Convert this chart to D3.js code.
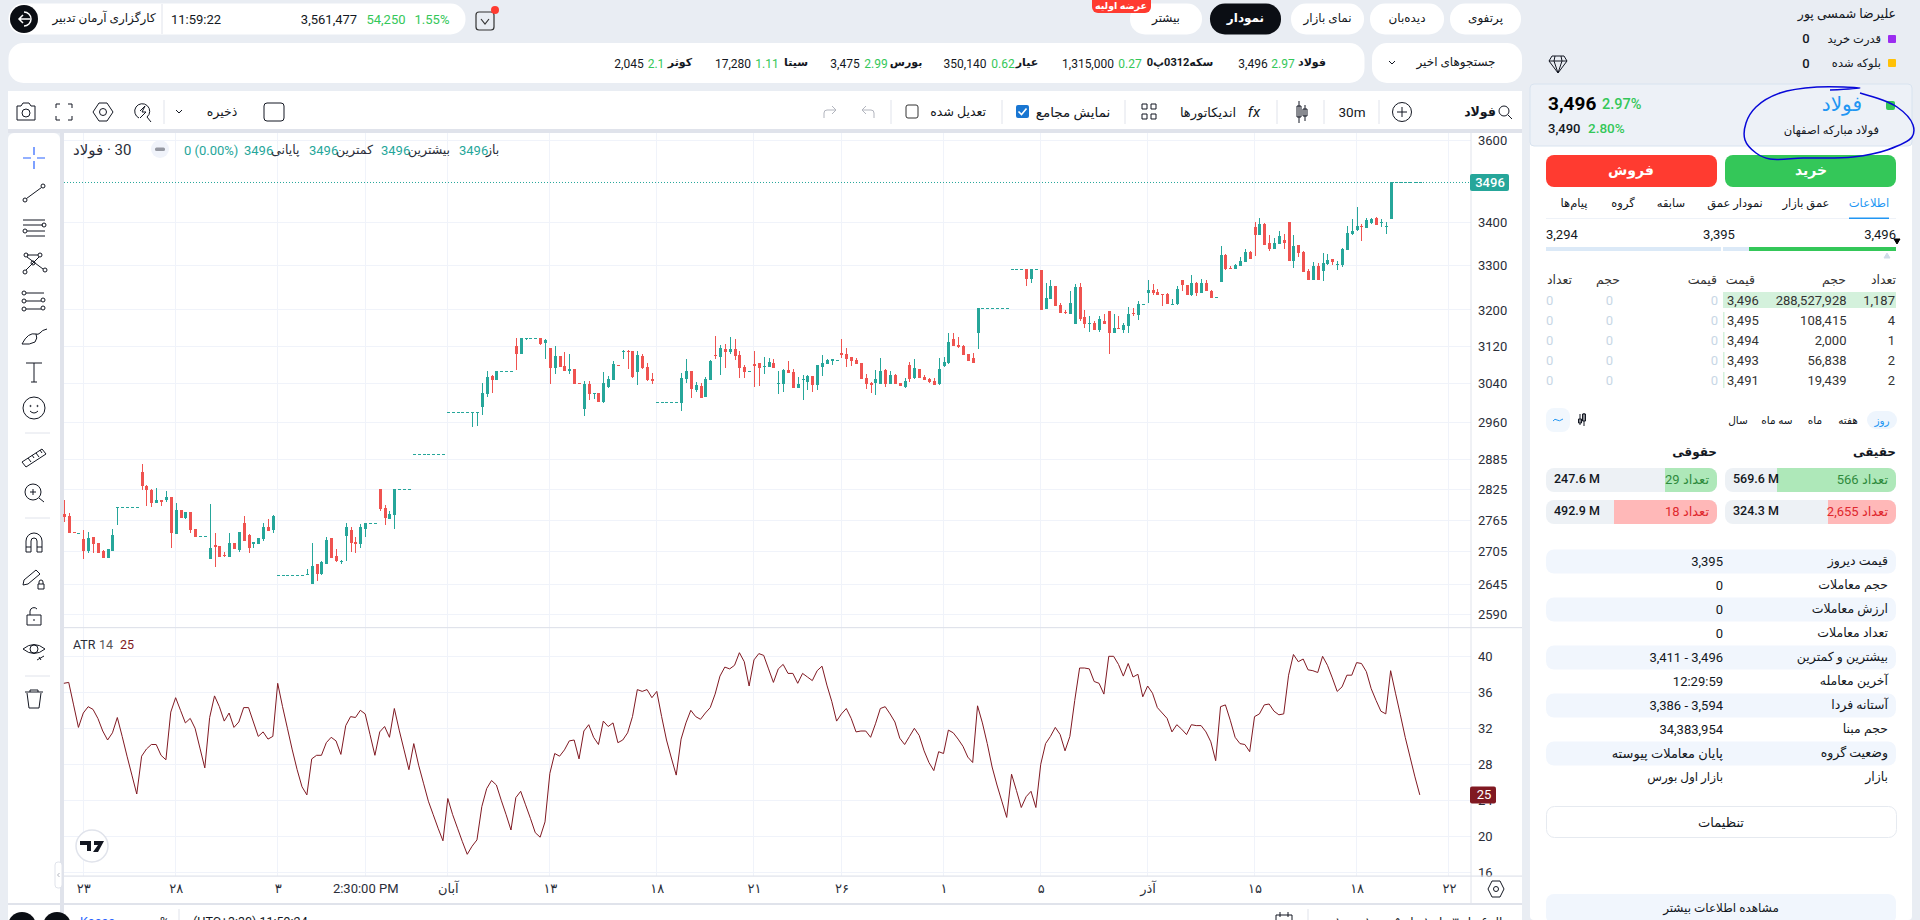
<!DOCTYPE html>
<html>
<head>
<meta charset="utf-8">
<script src="https://cdnjs.cloudflare.com/ajax/libs/d3/7.8.5/d3.min.js"></script>
<style>
    html, body { margin: 0; padding: 0; background: #e9edf3; overflow: hidden; }
    svg { display: block; }
    text { font-family: Roboto, "DejaVu Sans", sans-serif; }
</style>
</head>
<body>
<svg id="chart"></svg>
<script>
var opens = [
    2777,2773,2743,2741,2729,2706,2733,2722,2706,2694,
    2706,2790,2791,2791,2791,2791,2860,2832,2824,2798,
    2805,2804,2809,2738,2785,2770,2781,2749,2734,2734,
    2692,2718,2716,2699,2696,2722,2708,2760,2736,2720,
    2720,2729,2751,2747,2662,2662,2662,2662,2662,2662,
    2661,2645,2683,2664,2683,2731,2697,2687,2734,2747,
    2724,2720,2749,2760,2760,2826,2788,2768,2775,2825,
    2825,2825,2895,2895,2895,2895,2895,2895,2895,2981,
    2981,2981,2981,2981,2980,2981,2991,3018,3056,3048,
    3066,3066,3066,3121,3104,3136,3138,3138,3138,3127,
    3116,3073,3099,3077,3067,3071,3041,2988,3040,3019,
    3021,3001,3033,3048,3079,3108,3109,3110,3065,3099,
    3075,3050,3002,3002,3002,3002,3002,2999,3050,3067,
    3027,3035,3012,3048,3101,3097,3114,3108,3114,3101,
    3075,3066,3082,3084,3075,3075,3084,3040,3040,3069,
    3065,3031,3048,3044,3056,3037,3075,3082,3088,3090,
    3106,3104,3097,3091,3084,3052,3042,3042,3040,3069,
    3040,3058,3042,3033,3080,3052,3071,3054,3050,3046,
    3040,3077,3084,3136,3123,3121,3104,3095,3149,3204,
    3204,3204,3204,3204,3204,3291,3291,3291,3291,3269,
    3291,3290,3202,3224,3253,3211,3196,3191,3169,3251,
    3184,3169,3171,3156,3175,3198,3149,3160,3156,3164,
    3193,3189,3212,3237,3244,3240,3235,3236,3213,3213,
    3267,3255,3233,3260,3237,3260,3242,3228,3262,3324,
    3295,3292,3299,3308,3331,3389,3371,3396,3352,3338,
    3350,3359,3401,3310,3347,3331,3287,3267,3299,3287,
    3303,3315,3302,3301,3336,3373,3382,3392,3387,3399,
    3411,3400,3392,3409,3496,3496,3496,3496,3496,3496
];
var highs = [
    2804,2779,2743,2741,2747,2743,2733,2722,2708,2710,
    2749,2791,2791,2791,2791,2791,2875,2834,2825,2828,
    2805,2822,2809,2798,2785,2781,2781,2749,2734,2734,
    2796,2741,2716,2705,2741,2722,2743,2773,2738,2723,
    2731,2760,2767,2775,2662,2662,2662,2662,2662,2662,
    2672,2722,2683,2688,2733,2731,2710,2690,2760,2751,
    2733,2757,2760,2760,2760,2826,2794,2783,2825,2825,
    2825,2825,2895,2895,2895,2895,2895,2895,2895,2981,
    2981,2981,2981,2981,2981,2981,3041,3066,3058,3066,
    3066,3066,3066,3138,3138,3138,3138,3138,3138,3136,
    3116,3121,3100,3108,3104,3071,3041,3046,3046,3020,
    3021,3064,3056,3088,3079,3112,3112,3110,3110,3104,
    3084,3063,3002,3002,3002,3002,3002,3063,3093,3067,
    3044,3042,3054,3091,3143,3123,3125,3140,3136,3110,
    3080,3066,3110,3084,3097,3095,3093,3067,3071,3088,
    3071,3054,3058,3058,3056,3080,3101,3093,3093,3090,
    3136,3116,3097,3095,3084,3061,3044,3069,3095,3071,
    3067,3061,3042,3052,3086,3093,3071,3058,3052,3052,
    3095,3097,3149,3149,3140,3123,3104,3106,3204,3204,
    3204,3204,3204,3204,3204,3291,3291,3291,3291,3291,
    3291,3290,3260,3267,3253,3215,3199,3242,3258,3260,
    3200,3187,3175,3187,3191,3198,3191,3187,3171,3207,
    3204,3219,3212,3267,3258,3246,3236,3238,3224,3253,
    3267,3255,3279,3262,3269,3267,3244,3228,3344,3326,
    3299,3303,3319,3338,3333,3401,3411,3399,3371,3364,
    3380,3373,3401,3371,3347,3333,3292,3308,3306,3329,
    3326,3315,3310,3340,3392,3409,3437,3397,3411,3411,
    3413,3408,3401,3496,3496,3496,3496,3496,3496,3496
];
var lows = [
    2761,2740,2742,2741,2692,2703,2703,2703,2694,2694,
    2706,2755,2791,2791,2791,2791,2824,2792,2791,2798,
    2792,2801,2712,2738,2770,2768,2740,2733,2734,2734,
    2692,2677,2696,2696,2696,2710,2705,2725,2703,2712,
    2720,2725,2745,2741,2662,2662,2662,2662,2662,2662,
    2661,2645,2650,2662,2683,2694,2685,2683,2688,2705,
    2703,2712,2733,2760,2760,2783,2755,2768,2749,2825,
    2825,2825,2895,2895,2895,2895,2895,2895,2895,2981,
    2981,2981,2981,2981,2950,2952,2975,3013,3021,3048,
    3066,3066,3066,3069,3104,3133,3138,3138,3123,3093,
    3040,3061,3075,3067,3061,3040,3040,2973,3005,3008,
    3001,2999,3031,3048,3078,3093,3071,3052,3037,3071,
    3046,3040,3002,3002,3002,3002,3002,2982,3042,3010,
    3023,3010,3012,3048,3093,3058,3073,3104,3091,3052,
    3052,3066,3033,3035,3061,3075,3073,3019,3023,3063,
    3031,3031,3006,3027,3023,3027,3056,3082,3080,3090,
    3095,3075,3077,3082,3050,3029,3021,3017,3040,3033,
    3040,3040,3035,3031,3044,3050,3052,3048,3042,3037,
    3037,3075,3082,3121,3116,3101,3088,3084,3114,3204,
    3204,3204,3204,3204,3204,3291,3291,3291,3253,3260,
    3291,3200,3202,3224,3208,3193,3191,3191,3169,3175,
    3160,3151,3156,3151,3169,3104,3149,3158,3149,3149,
    3187,3178,3212,3215,3233,3233,3208,3213,3213,3211,
    3242,3233,3231,3231,3237,3242,3226,3228,3262,3290,
    3292,3292,3299,3308,3315,3322,3371,3347,3333,3338,
    3350,3338,3310,3294,3319,3285,3267,3267,3267,3264,
    3301,3301,3290,3297,3336,3371,3380,3356,3387,3396,
    3394,3390,3373,3409,3496,3496,3496,3496,3496,3496
];
var closes = [
    2772,2740,2742,2741,2707,2731,2720,2703,2694,2710,
    2736,2791,2791,2791,2791,2791,2832,2824,2798,2805,
    2801,2809,2740,2785,2770,2781,2747,2733,2734,2734,
    2712,2714,2696,2697,2722,2710,2743,2725,2712,2723,
    2731,2751,2745,2773,2662,2662,2662,2662,2662,2662,
    2664,2678,2664,2685,2727,2694,2687,2688,2751,2722,
    2720,2751,2760,2760,2760,2787,2770,2777,2825,2825,
    2825,2825,2895,2895,2895,2895,2895,2895,2895,2981,
    2981,2981,2981,2981,2981,2981,3020,3054,3048,3066,
    3066,3066,3066,3104,3138,3138,3138,3138,3126,3134,
    3073,3099,3075,3067,3071,3040,3040,3040,3019,3020,
    3001,3042,3050,3082,3078,3109,3108,3054,3101,3073,
    3048,3046,3002,3002,3002,3002,3002,3052,3067,3029,
    3037,3010,3050,3088,3099,3116,3108,3114,3099,3073,
    3065,3066,3078,3073,3077,3086,3073,3041,3069,3063,
    3031,3040,3049,3056,3037,3080,3084,3091,3093,3090,
    3101,3093,3088,3082,3050,3040,3037,3050,3067,3040,
    3058,3040,3035,3046,3050,3073,3052,3048,3044,3037,
    3071,3086,3129,3121,3119,3101,3088,3084,3204,3204,
    3204,3204,3204,3204,3204,3291,3291,3291,3269,3291,
    3291,3200,3226,3253,3208,3193,3193,3215,3251,3180,
    3169,3170,3156,3180,3169,3149,3160,3158,3167,3191,
    3191,3213,3212,3244,3237,3233,3234,3213,3214,3246,
    3255,3233,3260,3237,3260,3242,3226,3228,3324,3292,
    3294,3301,3310,3331,3315,3371,3396,3347,3338,3352,
    3369,3352,3310,3345,3329,3285,3267,3299,3267,3306,
    3313,3308,3303,3338,3375,3380,3392,3391,3406,3408,
    3394,3401,3393,3496,3496,3496,3496,3496,3496,3496
];
var atrValues = [
    37.0,37.1,34.6,32.1,33.7,34.4,34.1,33.1,31.7,30.7,
    31.5,33.2,31.1,28.9,26.8,24.7,28.9,29.7,30.2,30.2,
    29.0,28.5,33.8,35.4,34.0,32.6,33.1,32.0,29.8,27.6,
    33.2,35.6,34.4,32.8,33.7,32.1,32.7,34.3,34.3,32.7,
    31.1,31.6,30.8,31.1,37.0,34.4,32.0,29.6,27.4,25.5,
    24.6,28.6,29.0,29.0,30.4,31.0,30.6,29.1,32.3,33.3,
    33.2,34.0,33.6,31.3,29.0,31.6,32.2,31.0,34.2,31.8,
    29.6,27.4,30.3,27.9,25.9,23.9,22.4,20.9,19.5,24.2,
    22.4,20.9,19.4,18.0,18.9,19.6,23.3,25.3,26.2,25.7,
    24.0,22.4,20.7,24.3,25.0,23.5,22.0,20.4,19.9,21.6,
    27.0,29.2,28.9,29.6,30.6,30.7,28.6,31.7,32.4,31.0,
    30.2,32.8,32.2,32.6,30.4,30.7,31.5,33.3,36.3,36.1,
    36.3,35.4,36.1,33.3,30.7,28.7,26.8,30.8,32.6,34.0,
    33.3,33.0,33.7,34.3,35.8,37.8,38.8,38.6,39.0,40.4,
    39.4,36.7,39.6,40.3,40.1,38.6,37.1,38.6,39.1,38.1,
    38.1,37.0,38.1,37.7,37.3,38.4,38.9,36.8,35.0,32.8,
    33.6,34.2,33.1,31.6,31.7,31.7,31.0,32.5,34.2,34.4,
    33.6,32.7,30.9,30.2,31.1,32.0,31.2,29.5,28.2,27.3,
    29.4,29.2,31.8,31.5,30.8,30.0,28.8,28.2,34.5,32.6,
    30.3,27.7,25.7,23.9,22.1,26.9,25.1,23.2,24.4,25.0,
    23.2,28.0,30.3,31.1,32.1,31.3,29.5,31.1,35.1,38.7,
    38.7,38.6,37.2,37.0,35.8,40.0,40.0,39.1,37.8,39.2,
    37.7,38.0,35.5,36.7,35.9,34.3,33.7,33.1,31.6,32.4,
    31.9,31.3,32.4,32.3,32.3,31.6,30.5,28.4,34.4,34.6,
    32.9,31.0,30.3,30.2,29.4,33.3,33.6,34.6,34.7,33.9,
    33.5,33.6,37.9,40.2,39.4,39.7,38.5,38.4,38.2,40.0,
    39.0,37.6,36.1,36.6,37.9,37.9,39.3,39.2,38.3,36.4,
    35.1,33.9,33.6,38.4,35.9,33.5,31.0,28.8,26.6,24.6
];

var priceTicks = [3600,3400,3300,3200,3120,3040,2960,2885,2825,2765,2705,2645,2590];
var atrTicks = [40,36,32,28,24,20,16];
var timeTickBars = [4,23,44,62,79,100,122,142,160,181,201,223,245,266,285];
var timeTickLabels = ['۲۳','۲۸','۳','2:30:00 PM','آبان','۱۳','۱۸','۲۱','۲۶','۱','۵','آذر','۱۵','۱۸','۲۲'];
var lastPrice = 3496;

var topTabs = ['پرتفوی','دیده‌بان','نمای بازار','نمودار','بیشتر'];
var quoteNames = ['فولاد','سکه0312پ0','عیار','بورس','سیتا','کوثر'];
var quotePrices = ['3,496','1,315,000','350,140','3,475','17,280','2,045'];
var quoteChanges = ['2.97','0.27','0.62','2.99','1.11','2.1'];
var panelTabs = ['اطلاعات','عمق بازار','نمودار عمق','سابقه','گروه','پیام‌ها'];
var bookCounts = ['1,187','4','1','2','2'];
var bookVolumes = ['288,527,928','108,415','2,000','56,838','19,439'];
var bookPrices = ['3,496','3,495','3,494','3,493','3,491'];
var rangeNames = ['روز','هفته','ماه','سه ماه','سال'];
var infoLabels = ['قیمت دیروز','حجم معاملات','ارزش معاملات','تعداد معاملات','بیشترین و کمترین','آخرین معامله','آستانه فردا','حجم مبنا','وضعیت گروه','بازار'];
var infoValues = ['3,395','0','0','0','3,411 - 3,496','12:29:59','3,386 - 3,594','34,383,954','پایان معاملات پیوسته','بازار اول بورس'];

var up = '#26a69a', down = '#ef5350', atrColor = '#801922', ink = '#131722', green = '#34c759';

var svg = d3.select('#chart').attr('width', 1920).attr('height', 920);

function box(x, y, w, h, r, fill, stroke) {
    return svg.append('rect').attr('x', x).attr('y', y).attr('width', w).attr('height', h)
        .attr('rx', r).attr('fill', fill).attr('stroke', stroke || 'none');
}
function txt(x, y, s, size, color, anchor, weight) {
    return svg.append('text').attr('x', x).attr('y', y).attr('dy', '.35em')
        .attr('font-size', size).attr('fill', color || ink)
        .attr('text-anchor', anchor || 'middle').attr('font-weight', weight || 400).text(s);
}
function icon(x, y, d, color, w) {
    return svg.append('path').attr('transform', 'translate(' + x + ',' + y + ')')
        .attr('d', d).attr('fill', 'none').attr('stroke', color || ink).attr('stroke-width', w || 1);
}
function circ(x, y, r) {
    return 'M' + (x - r) + ',' + y + 'a' + r + ',' + r + ' 0 1,0 ' + (2 * r) + ',0a' + r + ',' + r + ' 0 1,0 ' + (-2 * r) + ',0';
}
function vline(x, y1, y2) {
    svg.append('line').attr('x1', x).attr('x2', x).attr('y1', y1).attr('y2', y2).attr('stroke', '#e0e3eb');
}

// ---- page header
box(8.5, 3.5, 457, 31, 15, '#fff');
svg.append('circle').attr('cx', 24).attr('cy', 19).attr('r', 14).attr('fill', '#0b0e14');
icon(24, 19, 'M6,0H-5M-1,-4L-5,0L-1,4', '#fff', 1.5);
icon(24, 19, 'M0,-7A7,7 0 1,1 0,7', '#fff', 1.5);
txt(104, 18, 'کارگزاری آرمان تدبیر', 12, ink);
vline(162, 4, 34);
txt(196, 19, '11:59:22', 13, ink);
txt(329, 19, '3,561,477', 13, ink);
txt(386, 19, '54,250', 13, green);
txt(432, 19, '1.55%', 13, green);
icon(485, 21, 'M-9,-6a3,3 0 0,1 3,-3H6a3,3 0 0,1 3,3V6a3,3 0 0,1 -3,3H-6a3,3 0 0,1 -3,-3ZM-4,-2L0,3L4,-2', '#333', 1.2);
svg.append('circle').attr('cx', 495).attr('cy', 10).attr('r', 4).attr('fill', '#ff3b30');

var tabX = [1450, 1370, 1291, 1210, 1130], tabW = [71, 74, 73, 71, 72];
topTabs.forEach(function(t, i) {
    var dark = t === 'نمودار';
    box(tabX[i], 3.5, tabW[i], 31, 15, dark ? '#0b0e14' : '#fff');
    txt(tabX[i] + tabW[i] / 2, 18, t, 12, dark ? '#fff' : ink, 'middle', dark ? 700 : 400);
});
box(1092, -6, 59, 19, 6, '#ff3b30');
txt(1121, 6, 'عرضه اولیه', 9.5, '#fff', 'middle', 700);

txt(1896, 14, 'علیرضا شمسی پور', 12.5, ink, 'end');
box(1888, 35, 8, 8, 1, '#9b2cf0');
txt(1881, 39, 'قدرت خرید', 11.5, ink, 'end');
txt(1806, 38, '0', 13, ink, 'middle', 500);
box(1888, 59, 8, 8, 1, '#ffc107');
txt(1881, 63, 'بلوکه شده', 11.5, ink, 'end');
txt(1806, 63, '0', 13, ink, 'middle', 500);
icon(1558, 64, 'M-6,-8H6L9,-3L0,9L-9,-3ZM-9,-3H9M-3,-8L-4,-3L0,9L4,-3L3,-8', ink, 1);

box(8.5, 43, 1356, 40, 15, '#fff');
box(1372, 43, 150, 40, 15, '#fff');
txt(1456, 62, 'جستجوهای اخیر', 12, ink);
icon(1392, 63, 'M-3,-2L0,1L3,-2', ink);
var quoteNameX = [1312, 1180, 1027, 906, 796, 680];
var quotePriceX = [1253, 1088, 965, 845, 733, 629];
var quoteChangeX = [1283, 1130, 1003, 876, 767, 656];
quoteNames.forEach(function(q, i) {
    txt(quoteNameX[i], 62, q, 11, ink, 'middle', 700);
    txt(quotePriceX[i], 64, quotePrices[i], 12, ink);
    txt(quoteChangeX[i], 64, quoteChanges[i], 12, green);
});

// ---- chart card
box(8, 91, 1514, 38, 0, '#fff');
box(8, 129, 1514, 4, 0, '#e0e3eb');
box(8, 133, 52, 787, 6, '#fff');
box(64, 133, 1458, 770, 0, '#fff');
box(8, 903, 1514, 2, 0, '#e0e3eb');
box(8, 905, 1514, 15, 0, '#fff');
box(60, 133, 4, 787, 0, '#e0e3eb');

// chart toolbar
icon(26, 112, 'M-9,-6H-5L-3,-9H3L5,-6H9V8H-9Z' + circ(0, 1, 4));
icon(64, 112, 'M-8,-4V-8H-4M4,-8H8V-4M8,4V8H4M-4,8H-8V4');
icon(103, 112, 'M-4,-9H4L10,0L4,9H-4L-10,0Z' + circ(0, 0, 3.5));
icon(142, 112, 'M-3,6a7.5,7.5 0 1,1 8,-1L9,10M-2,-1L3,-6L0,0L4,0L-2,6');
vline(164, 100, 124);
icon(179, 112, 'M-3,-2L0,1L3,-2');
txt(222, 112, 'ذخیره', 12.5, ink);
box(264, 103, 20, 18, 3, 'none', ink);
icon(830, 112, 'M-6,6V1a3,3 0 0,1 3,-3H6M2,-6L6,-2L2,2', '#b2b5be');
icon(868, 112, 'M6,6V1a3,3 0 0,0 -3,-3H-6M-2,-6L-6,-2L-2,2', '#b2b5be');
vline(891, 100, 124);
box(906, 105, 12, 13, 2, '#fff', '#333');
txt(986, 112, 'تعدیل شده', 12.5, ink, 'end');
vline(1002, 100, 124);
box(1016, 105, 13, 13, 2, '#1976d2');
icon(1022.5, 111.5, 'M-4,0L-1,3L4,-3', '#fff', 1.6);
txt(1073, 112, 'نمایش مجامع', 13.5, ink);
vline(1125, 100, 124);
icon(1149, 112, 'M-7,-8H-2V-3H-7ZM2,-8H7V-3H2ZM-7,2H-2V7H-7ZM2,2H7V7H2Z');
txt(1208, 112, 'اندیکاتورها', 13, ink);
txt(1254, 112, 'fx', 15, ink).attr('font-style', 'italic');
vline(1277, 100, 124);
icon(1302, 112, 'M-3,-11V11M-5,-6H-1V5H-5ZM3,-7V9M1,-3H5V4H1Z');
vline(1324, 100, 124);
txt(1352, 112, '30m', 13.5, ink);
vline(1379, 100, 124);
icon(1402, 112, circ(0, 0, 9.5) + 'M-5,0H5M0,-5V5');
txt(1480, 112, 'فولاد', 12.5, ink, 'middle', 700);
icon(1505, 112, circ(-1, -1, 5) + 'M3,3L7,7');

// drawing toolbar
icon(34, 158, 'M-11,0H-3M3,0H11M0,-11V-3M0,3V11', '#2962ff', 1.2);
icon(34, 193, circ(-9, 7, 2) + circ(9, -7, 2) + 'M-7.5,5.5L7.5,-5.5');
icon(34, 228, 'M-11,-8H11M-11,-3H9M-7,3H11M-8,8H11' + circ(10, -3, 2) + circ(-9, 3, 2));
icon(34, 263, circ(-8, -8, 2) + circ(6, -8, 2) + circ(-9, 9, 2) + circ(11, 7, 2) + circ(-1, 0, 2) + 'M-7,-6L9,6M5,-6L-8,7M-7,-8H4');
icon(34, 301, circ(-10, -8, 2) + circ(-10, 0, 2) + circ(-10, 8, 2) + circ(9, -1, 2) + circ(9, 7, 2) + 'M-8,-8H10M-8,8H7M-8,0H7');
icon(34, 336, 'M-12,8Q-6,-4 2,-2Q4,2 1,6Q-4,9 -12,8M2,-2Q4,-1 6,-3Q8,-6 13,-7');
icon(34, 372, 'M-8,-9H8M0,-9V10M-3,10H3');
icon(34, 408, circ(0, 0, 11) + circ(-3.5, -2, .6) + circ(3.5, -2, .6) + 'M-4,3Q0,7 4,3');
icon(34, 433, 'M-9,0H16', '#e0e3eb');
icon(34, 457, 'M-12,5L8,-8L12,-3L-8,10ZM-6,1L-3,5M-2,-2L0,1M2,-4L5,0M6,-7L8,-4');
icon(34, 493, circ(-1, -1, 8) + 'M5,5L10,9M-4,-1H2M-1,-4V2');
icon(34, 518, 'M-9,0H16', '#e0e3eb');
icon(34, 543, 'M-8,9V-2A8,8 0 0,1 8,-2V9H3V-2A3,3 0 0,0 -3,-2V9ZM-8,4H-3M3,4H8');
icon(34, 578, 'M-11,7L-10,2L2,-8L6,-4L-6,6ZM4,6H10V11H4ZM5,6V4A2,2 0 0,1 9,4V6');
icon(34, 616, 'M-7,-1H7V9H-7ZM-4,-1V-5A4,4 0 0,1 3,-7M0,3V5');
icon(34, 651, 'M-11,-2Q0,-11 11,-2Q0,7 -11,-2' + circ(0, -2, 4) + 'M3,9L10,5M5,6L7,9');
icon(34, 676, 'M-9,0H16', '#e0e3eb');
icon(34, 699, 'M-9,-7H9M-7,-6L-5,9H5L7,-6M-4,-7V-9H4V-7');
box(55, 862, 7, 26, 3, '#fff', '#e0e3eb');
icon(58.5, 875, 'M1,-2L-1,0L1,2', '#b2b5be');

// ---- scales and grid
var xScale = d3.scaleLinear().domain([0, 279]).range([63.86, 1419.8]);
var priceScale = d3.scaleLog().domain([2590, 3600]).range([614.3, 140.3]);
var atrScale = d3.scaleLinear().domain([16, 40]).range([872.3, 656.3]);

var grid = svg.append('g').attr('stroke', '#f0f3fa').attr('stroke-width', 1).attr('shape-rendering', 'crispEdges');
grid.selectAll('.gx').data(timeTickBars).enter().append('line')
    .attr('x1', function(d) { return xScale(d); }).attr('x2', function(d) { return xScale(d); })
    .attr('y1', 133).attr('y2', 876);
grid.selectAll('.gp').data(priceTicks).enter().append('line')
    .attr('x1', 64).attr('x2', 1471)
    .attr('y1', function(d) { return priceScale(d); }).attr('y2', function(d) { return priceScale(d); });
grid.selectAll('.ga').data(atrTicks).enter().append('line')
    .attr('x1', 64).attr('x2', 1471)
    .attr('y1', function(d) { return atrScale(d); }).attr('y2', function(d) { return atrScale(d); });

// last price line
svg.append('line').attr('x1', 64).attr('x2', 1471)
    .attr('y1', priceScale(lastPrice)).attr('y2', priceScale(lastPrice))
    .attr('stroke', up).attr('stroke-dasharray', '1,2');

// ---- candles
var candles = svg.append('g').attr('shape-rendering', 'crispEdges');
var bars = candles.selectAll('g').data(d3.range(opens.length)).enter().append('g')
    .attr('fill', function(i) { return closes[i] >= opens[i] ? up : down; });
bars.append('rect')
    .attr('x', function(i) { return Math.round(xScale(i)); })
    .attr('width', 1)
    .attr('y', function(i) { return priceScale(highs[i]); })
    .attr('height', function(i) { return priceScale(lows[i]) - priceScale(highs[i]); });
bars.append('rect')
    .attr('x', function(i) { return Math.round(xScale(i)) - 1; })
    .attr('width', 3)
    .attr('y', function(i) { return priceScale(Math.max(opens[i], closes[i])); })
    .attr('height', function(i) {
        return Math.max(1, priceScale(Math.min(opens[i], closes[i])) - priceScale(Math.max(opens[i], closes[i])));
    });

// ---- atr
var atrLine = d3.line()
    .x(function(d, i) { return xScale(i); })
    .y(function(d) { return atrScale(d); });
svg.append('path').datum(atrValues).attr('d', atrLine)
    .attr('fill', 'none').attr('stroke', atrColor).attr('stroke-width', 1);

// ---- axes
function styleAxis(g) {
    g.select('.domain').remove();
    g.selectAll('text').attr('font-size', 13).attr('fill', '#2a2e39');
}
svg.append('g').attr('transform', 'translate(1471,0)')
    .call(d3.axisRight(priceScale).tickValues(priceTicks).tickFormat(String).tickSize(0).tickPadding(7))
    .call(styleAxis);
svg.append('g').attr('transform', 'translate(1471,0)')
    .call(d3.axisRight(atrScale).tickValues(atrTicks).tickFormat(String).tickSize(0).tickPadding(7))
    .call(styleAxis);
svg.append('g').attr('transform', 'translate(0,883.5)')
    .call(d3.axisBottom(xScale).tickValues(timeTickBars)
        .tickFormat(function(d, i) { return timeTickLabels[i]; }).tickSize(0).tickPadding(0))
    .call(styleAxis);

box(64, 627, 1458, 1.2, 0, '#e0e3eb');
box(64, 875.5, 1458, 1.2, 0, '#e0e3eb');
vline(1471, 133, 903);
box(1470, 174, 39, 17, 2, up);
txt(1490, 182.5, String(lastPrice), 13, '#fff', 'middle', 500);
box(1470, atrScale(atrValues[279]) - 8.5, 26, 17, 2, atrColor);
txt(1484, atrScale(atrValues[279]), '25', 13, '#fff');
icon(1496, 889, 'M-4,-8H4L8,0L4,8H-4L-8,0Z' + circ(0, 0, 2.5));

// legends
txt(73, 150, 'فولاد\u200E · 30', 15, '#2a2e39', 'start');
svg.append('circle').attr('cx', 160).attr('cy', 149).attr('r', 9).attr('fill', '#f0f3fa');
box(155, 147.5, 10, 3.5, 1.5, '#9598a1');
txt(184, 150, '0 (0.00%)', 13, up, 'start');
var legendLabels = ['پایانی', 'کمترین', 'بیشترین', 'باز'];
var legendValueX = [244, 309, 381, 459], legendLabelX = [271, 336, 408, 486];
legendLabels.forEach(function(l, i) {
    txt(legendValueX[i], 150, String(lastPrice), 13, up, 'start');
    txt(legendLabelX[i], 150, l, 12.5, '#2a2e39', 'start');
});
txt(73, 645, 'ATR', 12.5, '#2a2e39', 'start');
txt(99, 645, '14', 12.5, '#555', 'start');
txt(120, 645, '25', 12.5, atrColor, 'start');
svg.append('circle').attr('cx', 92).attr('cy', 846).attr('r', 16).attr('fill', '#fff').attr('stroke', '#e0e3eb').attr('stroke-width', 1.5);
svg.append('path').attr('transform', 'translate(92,846)').attr('fill', '#131722')
    .attr('d', 'M-12,-5H-1V5H-5V-1H-12ZM2,-5H12L6,6H1L6,-1H2Z');

// bottom strip, cut by the window
svg.append('circle').attr('cx', 22).attr('cy', 926).attr('r', 14).attr('fill', '#0b0e14');
svg.append('circle').attr('cx', 57).attr('cy', 926).attr('r', 14).attr('fill', '#0b0e14');
txt(80, 921.5, 'Kaaaa', 12.5, '#2962ff', 'start');
txt(160, 921.5, '%', 12.5, ink, 'start');
vline(179, 909, 920);
txt(193, 921.5, '(UTC+3:30) 11:59:24', 12.5, ink, 'start');
icon(1284, 921, 'M-8,-6H8V8H-8ZM-4,-9V-4M4,-9V-4');
vline(1308, 909, 920);
txt(1335, 921.5, '۱ سال ۶ ماه ۳ ماه ۱ ماه ۵ روز ۱ روز', 12, ink, 'start');

// ---- right panel
box(1530, 84, 382, 836, 4, '#fff');
box(1530, 84, 382, 62, 4, '#edf1f7', '#d8e3ef');
txt(1548, 103, '3,496', 19, '#000', 'start', 700);
txt(1602, 104, '2.97%', 14.5, green, 'start', 500);
txt(1548, 128, '3,490', 13, ink, 'start', 500);
txt(1588, 128, '2.80%', 13.5, green, 'start', 500);
txt(1862, 104, 'فولاد', 20, '#2196f3', 'end');
box(1886, 101, 9, 9, 2, green);
txt(1879, 130, 'فولاد مبارکه اصفهان', 11.5, ink, 'end');

box(1725, 155, 171, 32, 8, green);
txt(1811, 170, 'خرید', 14, '#fff', 'middle', 700);
box(1546, 155, 171, 32, 8, '#ff3b30');
txt(1631, 170, 'فروش', 14, '#fff', 'middle', 700);

var panelTabX = [1869, 1806, 1735, 1671, 1623, 1574];
panelTabs.forEach(function(t, i) {
    txt(panelTabX[i], 203, t, 11.5, i === 0 ? '#2196f3' : ink);
});
box(1546, 218, 350, 1, 0, '#eef2f8');
box(1849, 217.5, 40, 1.5, 0, '#2196f3');

txt(1546, 234, '3,294', 13, ink, 'start');
txt(1719, 234, '3,395', 13, ink);
txt(1896, 234, '3,496', 13, ink, 'end');
box(1546, 247, 175, 4, 0, '#dbe9f7');
box(1723, 247, 26, 4, 0, '#dbe9f7');
box(1749, 247, 147, 4, 0, green);
icon(1897, 241, 'M-3,-2H3L0,3Z', '#000', 1).attr('fill', '#000');
icon(1887, 255, 'M-3,3H3L0,-2Z', '#cfdbe8', 1).attr('fill', '#cfdbe8');

txt(1896, 280, 'تعداد', 12.5, '#333', 'end');
txt(1846, 280, 'حجم', 12.5, '#333', 'end');
txt(1755, 280, 'قیمت', 12.5, '#333', 'end');
txt(1717, 280, 'قیمت', 12.5, '#333', 'end');
txt(1620, 280, 'حجم', 12.5, '#333', 'end');
txt(1572, 280, 'تعداد', 12.5, '#333', 'end');
bookPrices.forEach(function(p, i) {
    var y = 300 + i * 20;
    box(1723, y - 8, i === 0 ? 173 : 1.5, 16, 0, '#d4f1dc');
    txt(1895, y, bookCounts[i], 13, '#333', 'end');
    txt(1846.5, y, bookVolumes[i], 13, '#333', 'end');
    txt(1727, y, p, 13, '#333', 'start');
    txt(1718, y, '0', 13, '#c8d7e6', 'end');
    txt(1613, y, '0', 13, '#c8d7e6', 'end');
    txt(1546, y, '0', 13, '#c8d7e6', 'start');
});

box(1867, 411, 30, 18, 9, '#eef5fd');
var rangeX = [1882, 1848, 1815, 1777, 1738];
rangeNames.forEach(function(r, i) {
    txt(rangeX[i], 420, r, 10.5, i === 0 ? '#2196f3' : ink);
});
box(1546, 408, 24, 24, 8, '#f1f7fd');
icon(1558, 420, 'M-5,1Q-3,-2 -1,0T5,-1', '#2196f3');
icon(1582, 420, 'M-2,-6V5M2,-7V6M-3.5,-1H-.5V3H-3.5ZM.5,-6H3.5V1H.5Z', ink);

txt(1896, 452, 'حقیقی', 12, ink, 'end', 700);
txt(1717, 452, 'حقوقی', 12, ink, 'end', 700);

// share bars
var shareRows = [
    ['تعداد 566', '569.6 M', 'تعداد 29', '247.6 M'],
    ['تعداد 2,655', '324.3 M', 'تعداد 18', '492.9 M']
];
var shareWidths = [[119, 52], [68, 103]];
shareRows.forEach(function(r, i) {
    var y = 468 + i * 32, fill = i === 0 ? '#aee8b9' : '#ffb8b8', color = i === 0 ? '#2e8b3d' : '#e0282e';
    [[1725, 0], [1546, 2]].forEach(function(g, j) {
        var w = shareWidths[i][j];
        box(g[0], y, 171, 24, 8, '#edf1f5');
        svg.append('path').attr('fill', fill)
            .attr('d', 'M' + (g[0] + 171 - w) + ',' + y + 'H' + (g[0] + 163) + 'a8,8 0 0,1 8,8v8a8,8 0 0,1 -8,8H' + (g[0] + 171 - w) + 'Z');
        txt(g[0] + 163, y + 11, r[g[1]], 13, color, 'end');
        txt(g[0] + 8, y + 11, r[g[1] + 1], 12.5, ink, 'start', 500);
    });
});

infoLabels.forEach(function(l, i) {
    var y = 561 + i * 24;
    if (i % 2 === 0) { box(1546, y - 11.5, 350, 24, 8, '#f1f6fd'); }
    txt(1888, y, l, 12.5, ink, 'end');
    txt(1723, y, infoValues[i], i === 9 ? 12 : 13, ink, 'end', i > 7 ? 500 : 400);
});

box(1546.5, 806.5, 350, 31, 8, '#fff', '#e6eaf0');
txt(1721, 822, 'تنظیمات', 13, ink);
box(1546, 894, 350, 30, 8, '#f1f6fd');
txt(1721, 908, 'مشاهده اطلاعات بیشتر', 12, ink);

// hand drawn circle over the symbol title
var penPoints = [[1830,90],[1860,88],[1817,87],[1780,93],[1756,107],[1746,123],[1745,140],[1756,153],[1770,159],[1803,158],[1853,157],[1887,150],[1912,137],[1913,125],[1897,107],[1860,93]];
svg.append('path').datum(penPoints)
    .attr('d', d3.line().curve(d3.curveCatmullRom))
    .attr('fill', 'none').attr('stroke', '#0808d8').attr('stroke-width', 1.5);
</script>
</body>
</html>
